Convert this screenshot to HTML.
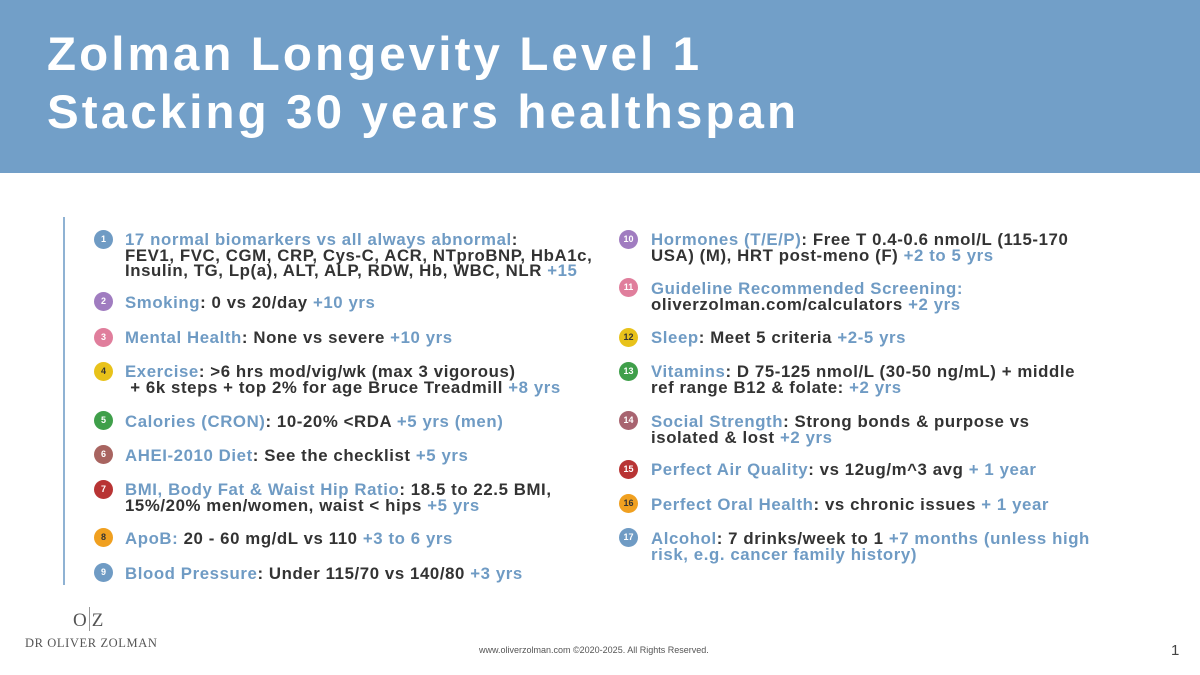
<!DOCTYPE html>
<html><head><meta charset="utf-8"><style>
*{margin:0;padding:0;box-sizing:border-box}
body{width:1200px;height:675px;background:#fff;position:relative;overflow:hidden;font-family:"Liberation Sans",sans-serif}
.hdr{position:absolute;left:0;top:0;width:1200px;height:173px;background:#729fc8}
.t{position:absolute;left:47px;color:#fff;font-weight:bold;font-size:47.5px;letter-spacing:3.1px;white-space:nowrap}
.vl{position:absolute;left:63px;top:217px;width:2px;height:368px;background:#8fb2d3}
.it{position:absolute;font-weight:bold;font-size:16.8px;line-height:15.5px;color:#333;letter-spacing:0.6px;white-space:nowrap}
.k{color:#6f9bc4}
.c{position:absolute;width:19px;height:19px;border-radius:50%;color:#fff;font-size:9px;font-weight:bold;text-align:center;line-height:19px}
</style></head><body>
<div class="hdr"></div>
<div class="t" style="top:27px">Zolman Longevity Level 1</div>
<div class="t" style="top:85px">Stacking 30 years healthspan</div>
<div class="vl"></div>

<div class="c" style="left:94px;top:230px;background:#6f9bc4">1</div>
<div class="it" style="left:125px;top:232px"><span class="k">17 normal biomarkers vs all always abnormal</span>:<br>FEV1, FVC, CGM, CRP, Cys-C, ACR, NTproBNP, HbA1c,<br>Insulin, TG, Lp(a), ALT, ALP, RDW, Hb, WBC, NLR <span class="k">+15</span></div>
<div class="c" style="left:94px;top:292px;background:#a07cc0">2</div>
<div class="it" style="left:125px;top:295px"><span class="k">Smoking</span>: 0 vs 20/day <span class="k">+10 yrs</span></div>
<div class="c" style="left:94px;top:328px;background:#e07e9c">3</div>
<div class="it" style="left:125px;top:330px"><span class="k">Mental Health</span>: None vs severe <span class="k">+10 yrs</span></div>
<div class="c" style="left:94px;top:362px;background:#e8c21a;color:#333">4</div>
<div class="it" style="left:125px;top:364px"><span class="k">Exercise</span>: &gt;6 hrs mod/vig/wk (max 3 vigorous)<br>&nbsp;+ 6k steps + top 2% for age Bruce Treadmill <span class="k">+8 yrs</span></div>
<div class="c" style="left:94px;top:411px;background:#3f9f4a">5</div>
<div class="it" style="left:125px;top:414px"><span class="k">Calories (CRON)</span>: 10-20% &lt;RDA <span class="k">+5 yrs (men)</span></div>
<div class="c" style="left:94px;top:445px;background:#a86460">6</div>
<div class="it" style="left:125px;top:448px"><span class="k">AHEI-2010 Diet</span>: See the checklist <span class="k">+5 yrs</span></div>
<div class="c" style="left:94px;top:480px;background:#b83434">7</div>
<div class="it" style="left:125px;top:482px"><span class="k">BMI, Body Fat &amp; Waist Hip Ratio</span>: 18.5 to 22.5 BMI,<br>15%/20% men/women, waist &lt; hips <span class="k">+5 yrs</span></div>
<div class="c" style="left:94px;top:528px;background:#f0a020;color:#333">8</div>
<div class="it" style="left:125px;top:531px"><span class="k">ApoB:</span> 20 - 60 mg/dL vs 110 <span class="k">+3 to 6 yrs</span></div>
<div class="c" style="left:94px;top:563px;background:#6f9bc4">9</div>
<div class="it" style="left:125px;top:566px"><span class="k">Blood Pressure</span>: Under 115/70 vs 140/80 <span class="k">+3 yrs</span></div>

<div class="c" style="left:619px;top:230px;background:#a07cc0">10</div>
<div class="it" style="left:651px;top:232px"><span class="k">Hormones (T/E/P)</span>: Free T 0.4-0.6 nmol/L (115-170<br>USA) (M), HRT post-meno (F) <span class="k">+2 to 5 yrs</span></div>
<div class="c" style="left:619px;top:278px;background:#e07e9c">11</div>
<div class="it" style="left:651px;top:281px"><span class="k">Guideline Recommended Screening:</span><br>oliverzolman.com/calculators <span class="k">+2 yrs</span></div>
<div class="c" style="left:619px;top:328px;background:#e8c21a;color:#333">12</div>
<div class="it" style="left:651px;top:330px"><span class="k">Sleep</span>: Meet 5 criteria <span class="k">+2-5 yrs</span></div>
<div class="c" style="left:619px;top:362px;background:#3f9f4a">13</div>
<div class="it" style="left:651px;top:364px"><span class="k">Vitamins</span>: D 75-125 nmol/L (30-50 ng/mL) + middle<br>ref range B12 &amp; folate: <span class="k">+2 yrs</span></div>
<div class="c" style="left:619px;top:411px;background:#a86470">14</div>
<div class="it" style="left:651px;top:414px"><span class="k">Social Strength</span>: Strong bonds &amp; purpose vs<br>isolated &amp; lost <span class="k">+2 yrs</span></div>
<div class="c" style="left:619px;top:460px;background:#b83434">15</div>
<div class="it" style="left:651px;top:462px"><span class="k">Perfect Air Quality</span>: vs 12ug/m^3 avg <span class="k">+ 1 year</span></div>
<div class="c" style="left:619px;top:494px;background:#f0a020;color:#333">16</div>
<div class="it" style="left:651px;top:497px"><span class="k">Perfect Oral Health</span>: vs chronic issues <span class="k">+ 1 year</span></div>
<div class="c" style="left:619px;top:528px;background:#6f9bc4">17</div>
<div class="it" style="left:651px;top:531px"><span class="k">Alcohol</span>: 7 drinks/week to 1 <span class="k">+7 months (unless high<br>risk, e.g. cancer family history)</span></div>

<div style="position:absolute;left:73px;top:607px;font-family:'Liberation Serif',serif;font-size:19px;color:#555">O<span style="display:inline-block;width:1px;height:24px;background:#999;vertical-align:-5px;margin:0 2px"></span>Z</div>
<div style="position:absolute;left:25px;top:636px;font-family:'Liberation Serif',serif;font-size:12.5px;color:#555;letter-spacing:0.6px">DR OLIVER ZOLMAN</div>
<div style="position:absolute;left:479px;top:645px;font-size:9px;color:#555">www.oliverzolman.com ©2020-2025. All Rights Reserved.</div>
<div style="position:absolute;left:1171px;top:642px;font-size:15px;color:#444">1</div>
</body></html>
